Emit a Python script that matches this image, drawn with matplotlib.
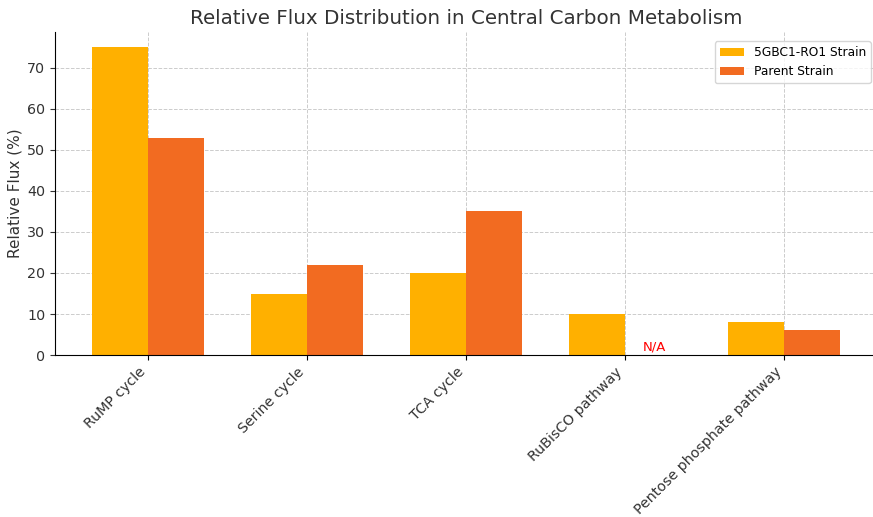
import matplotlib
matplotlib.use("Agg")
import matplotlib.pyplot as plt
import numpy as np

categories = ["RuMP cycle", "Serine cycle", "TCA cycle", "RuBisCO pathway", "Pentose phosphate pathway"]
strain_5gbc1 = [75, 15, 20, 10, 8]
parent_strain = [53, 22, 35, 0, 6]
series_names = ["5GBC1-RO1 Strain", "Parent Strain"]

plt.rcParams['font.family'] = ['DejaVu Sans']
fig = plt.figure(figsize=(8.73, 5.17), dpi=100)
ax = fig.add_axes([0.063, 0.3133, 0.9416, 0.6247])

x = np.arange(len(categories))
w = 0.35
ax.bar(x - w/2, strain_5gbc1, w, color="#FFB000", label=series_names[0], zorder=2)
ax.bar(x + w/2, parent_strain, w, color="#F26B21", label=series_names[1], zorder=2)
ax.text(3 + w/2 + 0.01, 0.4, "N/A", color="red", ha="center", va="bottom", fontsize=9.5)

ax.set_xticks(x)
ax.set_xticklabels(categories, rotation=45, ha="right", fontsize=10.2, color="#333333")
ax.tick_params(axis='x', pad=3.5)
ax.tick_params(axis='y', labelsize=10.3, colors="#333333")
ax.set_ylim(0, 78.75)
ax.set_xlim(-0.585, 4.585)
ax.set_ylabel("Relative Flux (%)", fontsize=11, color="#333333", labelpad=3)
ax.set_title("Relative Flux Distribution in Central Carbon Metabolism", fontsize=14.3, color="#333333")
ax.grid(True, linestyle="--", color="#cccccc", linewidth=0.7, zorder=0)
ax.set_axisbelow(True)
ax.spines['top'].set_visible(False)
ax.spines['right'].set_visible(False)
ax.legend(loc="upper right", fontsize=8.8, frameon=True, bbox_to_anchor=(1.0, 0.99))

fig.savefig("out.png", dpi=100)
